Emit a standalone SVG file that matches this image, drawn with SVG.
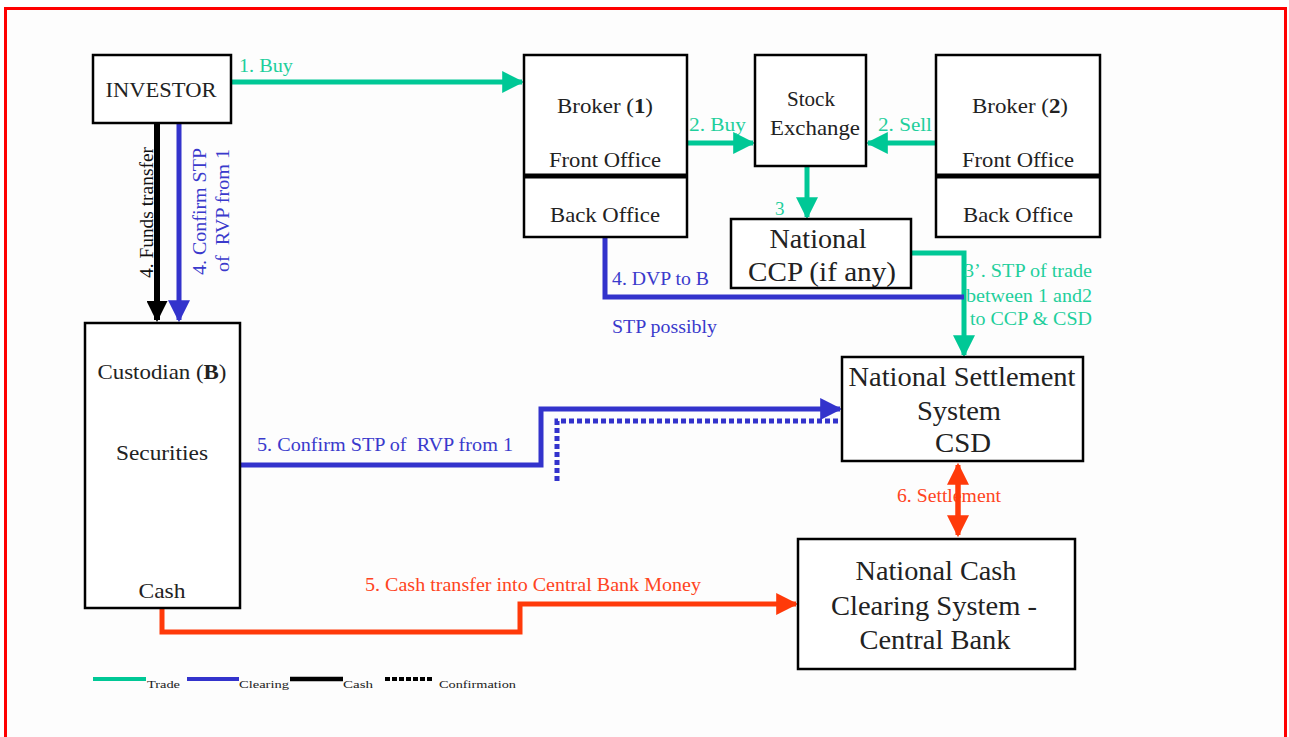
<svg xmlns="http://www.w3.org/2000/svg" width="1289" height="737" viewBox="0 0 1289 737">
<defs>
<style>
text{font-family:"Liberation Serif","Times New Roman",serif;}
.box{fill:#fff;stroke:#000;stroke-width:2.5;}
.t{fill:#222;font-size:22px;text-anchor:middle;}
.tl{fill:#222;font-size:27px;text-anchor:middle;}
.g{fill:none;stroke:#00c896;stroke-width:5;}
.b{fill:none;stroke:#3333cc;stroke-width:5;}
.k{fill:none;stroke:#000;stroke-width:6;}
.r{fill:none;stroke:#ff3a0a;stroke-width:5;}
.gt{fill:#1fcf9c;font-size:19px;}
.bt{fill:#3a3acc;font-size:19px;}
.rt{fill:#ff4422;font-size:19px;}
.lg{fill:#222;font-size:11px;}
</style>
<marker id="ag" viewBox="0 0 10 10" refX="9" refY="5" markerWidth="4.4" markerHeight="4.4" orient="auto" markerUnits="strokeWidth"><path d="M0,0L10,5L0,10z" fill="#00c896"/></marker>
<marker id="ab" viewBox="0 0 10 10" refX="9" refY="5" markerWidth="4.4" markerHeight="4.4" orient="auto" markerUnits="strokeWidth"><path d="M0,0L10,5L0,10z" fill="#3333cc"/></marker>
<marker id="ak" viewBox="0 0 10 10" refX="9" refY="5" markerWidth="3.5" markerHeight="3.5" orient="auto" markerUnits="strokeWidth"><path d="M0,0L10,5L0,10z" fill="#000"/></marker>
<marker id="ar" viewBox="0 0 10 10" refX="9" refY="5" markerWidth="4.4" markerHeight="4.4" orient="auto" markerUnits="strokeWidth"><path d="M0,0L10,5L0,10z" fill="#ff3a0a"/></marker>
<marker id="ars" viewBox="0 0 10 10" refX="1" refY="5" markerWidth="4.4" markerHeight="4.4" orient="auto" markerUnits="strokeWidth"><path d="M10,0L0,5L10,10z" fill="#ff3a0a"/></marker>
</defs>
<rect x="0" y="0" width="1289" height="737" fill="#fff"/>
<rect x="5.5" y="8.5" width="1280" height="740" fill="#fdfdfd" stroke="#ff0000" stroke-width="3"/>

<g id="connectors">
<path class="g" d="M231,82H522" marker-end="url(#ag)"/>
<path class="g" d="M678,143H753" marker-end="url(#ag)"/>
<path class="g" d="M946,143H868" marker-end="url(#ag)"/>
<path class="g" d="M807,166V217" marker-end="url(#ag)"/>
<path class="g" d="M911,253H964V355" marker-end="url(#ag)"/>
<path class="k" d="M157,124V320" marker-end="url(#ak)"/>
<path class="b" d="M179,124V320" stroke-width="4.5" marker-end="url(#ab)"/>
<path class="b" d="M605,237V297H964"/>
<path class="b" d="M240,465H541V409H840" marker-end="url(#ab)"/>
<path class="b" d="M557,481V421H842" stroke-dasharray="5,3"/>
<path class="r" d="M162,608V632H520V604H796" marker-end="url(#ar)"/>
<path class="r" d="M958,465V535" marker-start="url(#ars)" marker-end="url(#ar)"/>
<text class="gt" x="239" y="72" textLength="54" lengthAdjust="spacingAndGlyphs">1. Buy</text>
<text class="gt" x="689" y="131" textLength="57" lengthAdjust="spacingAndGlyphs">2. Buy</text>
<text class="gt" x="878" y="131" textLength="54" lengthAdjust="spacingAndGlyphs">2. Sell</text>
<text class="gt" x="775" y="215" font-size="13">3</text>
<text class="gt" x="964" y="277" textLength="128" lengthAdjust="spacingAndGlyphs">3’. STP of trade</text>
<text class="gt" x="966" y="302" textLength="126" lengthAdjust="spacingAndGlyphs">between 1 and2</text>
<text class="gt" x="970" y="325" textLength="122" lengthAdjust="spacingAndGlyphs">to CCP &amp; CSD</text>
<text class="bt" x="612" y="285" textLength="97" lengthAdjust="spacingAndGlyphs">4. DVP to B</text>
<text class="bt" x="612" y="333" textLength="105" lengthAdjust="spacingAndGlyphs">STP possibly</text>
<text class="bt" x="257" y="451" textLength="256" lengthAdjust="spacingAndGlyphs">5. Confirm STP of &#160;RVP from 1</text>
<text class="rt" x="365" y="591" textLength="336" lengthAdjust="spacingAndGlyphs">5. Cash transfer into Central Bank Money</text>
<text class="rt" x="897" y="502" font-size="17" textLength="104" lengthAdjust="spacingAndGlyphs">6. Settlement</text>
<path class="r" d="M958,480V525"/>
<text fill="#111" font-size="19" transform="translate(153,278) rotate(-90)" textLength="131" lengthAdjust="spacingAndGlyphs">4. Funds transfer</text>
<text class="bt" font-size="19" transform="translate(206,275) rotate(-90)" textLength="127" lengthAdjust="spacingAndGlyphs">4. Confirm STP</text>
<text class="bt" font-size="19" transform="translate(229,272) rotate(-90)" textLength="123" lengthAdjust="spacingAndGlyphs">of &#160;RVP from 1</text>
</g>

<g id="investor"><rect class="box" x="93" y="55" width="138" height="68"/><text class="t" x="161" y="97" textLength="111" lengthAdjust="spacingAndGlyphs">INVESTOR</text></g>
<g id="broker1"><rect class="box" x="524" y="55" width="163" height="182"/><path d="M524,176H687" stroke="#000" stroke-width="5"/>
<text class="t" x="605" y="113" textLength="96" lengthAdjust="spacingAndGlyphs">Broker (<tspan font-weight="bold">1</tspan>)</text><text class="t" x="605" y="167" textLength="112" lengthAdjust="spacingAndGlyphs">Front Office</text><text class="t" x="605" y="222" textLength="110" lengthAdjust="spacingAndGlyphs">Back Office</text></g>
<g id="stockexchange"><rect class="box" x="755" y="55" width="111" height="111"/><text class="t" x="811" y="106" textLength="48" lengthAdjust="spacingAndGlyphs">Stock</text><text class="t" x="815" y="135" textLength="90" lengthAdjust="spacingAndGlyphs">Exchange</text></g>
<g id="broker2"><rect class="box" x="936" y="55" width="164" height="182"/><path d="M936,176H1100" stroke="#000" stroke-width="5"/>
<text class="t" x="1020" y="113" textLength="96" lengthAdjust="spacingAndGlyphs">Broker (<tspan font-weight="bold">2</tspan>)</text><text class="t" x="1018" y="167" textLength="112" lengthAdjust="spacingAndGlyphs">Front Office</text><text class="t" x="1018" y="222" textLength="110" lengthAdjust="spacingAndGlyphs">Back Office</text></g>
<g id="ccp"><rect class="box" x="731" y="219" width="180" height="69"/><text class="tl" x="818" y="248" textLength="97" lengthAdjust="spacingAndGlyphs">National</text><text class="tl" x="822" y="281" textLength="148" lengthAdjust="spacingAndGlyphs">CCP (if any)</text></g>
<g id="csd"><rect class="box" x="842" y="357" width="241" height="104"/><text class="tl" x="962" y="386" textLength="227" lengthAdjust="spacingAndGlyphs">National Settlement</text><text class="tl" x="959" y="420" textLength="84" lengthAdjust="spacingAndGlyphs">System</text><text class="tl" x="963" y="452" textLength="56" lengthAdjust="spacingAndGlyphs">CSD</text></g>
<g id="cashclearing"><rect class="box" x="798" y="539" width="277" height="130"/><text class="tl" x="936" y="580" textLength="161" lengthAdjust="spacingAndGlyphs">National Cash</text><text class="tl" x="934" y="615" textLength="206" lengthAdjust="spacingAndGlyphs">Clearing System -</text><text class="tl" x="935" y="649" textLength="151" lengthAdjust="spacingAndGlyphs">Central Bank</text></g>
<g id="custodian"><rect class="box" x="85" y="323" width="155" height="285"/><text class="t" x="162" y="379" textLength="129" lengthAdjust="spacingAndGlyphs">Custodian (<tspan font-weight="bold">B</tspan>)</text><text class="t" x="162" y="460" textLength="92" lengthAdjust="spacingAndGlyphs">Securities</text><text class="t" x="162" y="598" textLength="47" lengthAdjust="spacingAndGlyphs">Cash</text></g>

<g id="legend">
<path d="M93,679H146" stroke="#00c896" stroke-width="4"/><text class="lg" x="147" y="688" textLength="33" lengthAdjust="spacingAndGlyphs">Trade</text>
<path d="M187,679H239" stroke="#3333cc" stroke-width="4"/><text class="lg" x="239" y="688" textLength="50" lengthAdjust="spacingAndGlyphs">Clearing</text>
<path d="M290,679H343" stroke="#000" stroke-width="4.5"/><text class="lg" x="343" y="688" textLength="30" lengthAdjust="spacingAndGlyphs">Cash</text>
<path d="M385,679H434" stroke="#000" stroke-width="4" stroke-dasharray="5,2"/><text class="lg" x="439" y="688" textLength="77" lengthAdjust="spacingAndGlyphs">Confirmation</text>
</g>
</svg>
